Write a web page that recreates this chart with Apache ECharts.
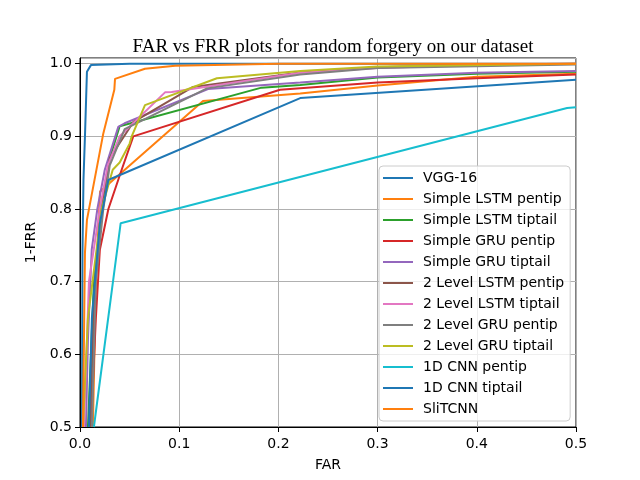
<html>
<head>
<meta charset="utf-8">
<script src="https://cdn.jsdelivr.net/npm/echarts@6/dist/echarts.min.js"></script>
<style>
  html, body, #main { width: 100%; height: 100%; margin: 0; background: #fff; }
</style>
</head>
<body>
<div id="main"></div>
<script>
// series names, in legend order
var seriesNames = ['VGG-16', 'Simple LSTM pentip', 'Simple LSTM tiptail', 'Simple GRU pentip',
  'Simple GRU tiptail', '2 Level LSTM pentip', '2 Level LSTM tiptail', '2 Level GRU pentip',
  '2 Level GRU tiptail', '1D CNN pentip', '1D CNN tiptail', 'SliTCNN'];

// [FAR, 1-FRR] points
var vgg16 = [[0.002, 0.5], [0.0025, 0.74], [0.0035, 0.84], [0.005, 0.9], [0.007, 0.989], [0.011, 0.998], [0.05, 1.0], [0.5, 1.0]];
var lstmPentip = [[0.013, 0.5], [0.016, 0.7], [0.019, 0.79], [0.0202, 0.824], [0.124, 0.9485], [0.222, 0.959], [0.3, 0.97], [0.4, 0.982], [0.5, 0.986]];
var lstmTiptail = [[0.008, 0.5], [0.014, 0.7], [0.022, 0.8], [0.03, 0.87], [0.04, 0.914], [0.183, 0.967], [0.222, 0.9705], [0.3, 0.981], [0.4, 0.986], [0.5, 0.989]];
var gruPentip = [[0.011, 0.5], [0.016, 0.65], [0.02, 0.744], [0.0286, 0.8], [0.042, 0.854], [0.0537, 0.9], [0.2016, 0.964], [0.3, 0.974], [0.4, 0.98], [0.5, 0.985]];
var gruTiptail = [[0.006, 0.5], [0.008, 0.62], [0.0118, 0.744], [0.0175, 0.8], [0.025, 0.854], [0.0386, 0.913], [0.045, 0.918], [0.129, 0.965], [0.222, 0.974], [0.3, 0.982], [0.4, 0.9875], [0.5, 0.99]];
var lstm2Pentip = [[0.01, 0.5], [0.015, 0.7], [0.021, 0.8], [0.03, 0.87], [0.054, 0.92], [0.114, 0.968], [0.222, 0.988], [0.3, 0.995], [0.4, 0.999], [0.5, 1.0]];
var lstm2Tiptail = [[0.004, 0.5], [0.009, 0.7], [0.02, 0.8], [0.028, 0.86], [0.04, 0.9], [0.0857, 0.9605], [0.0924, 0.961], [0.222, 0.9876], [0.3, 0.994], [0.4, 0.998], [0.5, 1.0]];
var gru2Pentip = [[0.012, 0.5], [0.016, 0.7], [0.0235, 0.8], [0.03, 0.86], [0.045, 0.91], [0.128, 0.966], [0.222, 0.985], [0.3, 0.994], [0.5, 0.999]];
var gru2Tiptail = [[0.003, 0.5], [0.008, 0.65], [0.0218, 0.8], [0.033, 0.854], [0.04, 0.864], [0.05, 0.89], [0.052, 0.8995], [0.0655, 0.943], [0.138, 0.98], [0.222, 0.99], [0.3, 0.996], [0.5, 1.0]];
var cnnPentip = [[0.014, 0.5], [0.041, 0.7805], [0.491, 0.939], [0.5, 0.94]];
var cnnTiptail = [[0.009, 0.5], [0.012, 0.65], [0.02, 0.78], [0.0286, 0.84], [0.032, 0.842], [0.222, 0.9526], [0.5, 0.978]];
var slitcnn = [[0.003, 0.5], [0.005, 0.74], [0.007, 0.785], [0.0235, 0.904], [0.0346, 0.964], [0.0353, 0.979], [0.0655, 0.993], [0.096, 0.997], [0.2, 1.0], [0.5, 1.0]];

var seriesData = [vgg16, lstmPentip, lstmTiptail, gruPentip, gruTiptail, lstm2Pentip,
  lstm2Tiptail, gru2Pentip, gru2Tiptail, cnnPentip, cnnTiptail, slitcnn];

var colors = ['#1f77b4', '#ff7f0e', '#2ca02c', '#d62728', '#9467bd', '#8c564b',
  '#e377c2', '#7f7f7f', '#bcbd22', '#17becf', '#1f77b4', '#ff7f0e'];

var chart = echarts.init(document.getElementById('main'));

var font = 'DejaVu Sans';

var option = {
  animation: false,
  backgroundColor: '#fff',
  color: colors,
  title: {
    text: 'FAR vs FRR plots for random forgery on our dataset',
    left: 328,
    top: 33,
    textAlign: 'center',
    textStyle: { fontFamily: 'Liberation Serif', fontSize: 19, fontWeight: 'normal', color: '#000' }
  },
  grid: {
    left: 80, right: 64, top: 58, bottom: 53,
    show: true, borderColor: '#000', borderWidth: 1
  },
  legend: {
    orient: 'vertical',
    left: 379,
    top: 166,
    icon: 'rect',
    itemWidth: 30,
    itemHeight: 2,
    itemGap: 7,
    padding: [5, 6, 5, 4],
    backgroundColor: 'rgba(255,255,255,0.8)',
    borderColor: '#cccccc',
    borderWidth: 1,
    borderRadius: 4,
    textStyle: { fontFamily: font, fontSize: 14, lineHeight: 14, color: '#000', padding: [0, 0, 0, 5] },
    data: seriesNames
  },
  xAxis: {
    type: 'value',
    min: 0,
    max: 0.5,
    interval: 0.1,
    name: 'FAR',
    nameLocation: 'middle',
    nameGap: 31,
    nameTextStyle: { fontFamily: font, fontSize: 14, color: '#000' },
    axisLine: { show: true, lineStyle: { color: '#000', width: 1 } },
    axisTick: { show: true, length: 5, lineStyle: { color: '#000' } },
    axisLabel: { fontFamily: font, fontSize: 14, color: '#000', margin: 10,
      formatter: function (v) { return v.toFixed(1); } },
    splitLine: { show: true, lineStyle: { color: '#b0b0b0', width: 1 } }
  },
  yAxis: {
    type: 'value',
    min: 0.5,
    max: 1.0078,
    interval: 0.1,
    name: '1-FRR',
    nameLocation: 'middle',
    nameGap: 40,
    nameTextStyle: { fontFamily: font, fontSize: 14, color: '#000' },
    axisLine: { show: true, lineStyle: { color: '#000', width: 1 } },
    axisTick: { show: true, length: 5, lineStyle: { color: '#000' } },
    axisLabel: { fontFamily: font, fontSize: 14, color: '#000', margin: 8, showMaxLabel: false,
      formatter: function (v) {
        var r = Math.round(v * 10) / 10;
        return Math.abs(r - v) < 1e-6 ? r.toFixed(1) : '';
      } },
    splitLine: { show: true, lineStyle: { color: '#b0b0b0', width: 1 } }
  },
  series: seriesNames.map(function (name, i) {
    return {
      name: name,
      type: 'line',
      data: seriesData[i],
      symbol: 'none',
      lineStyle: { width: 2, color: colors[i] },
      itemStyle: { color: colors[i] },
      clip: true
    };
  })
};

chart.setOption(option);
</script>
</body>
</html>
